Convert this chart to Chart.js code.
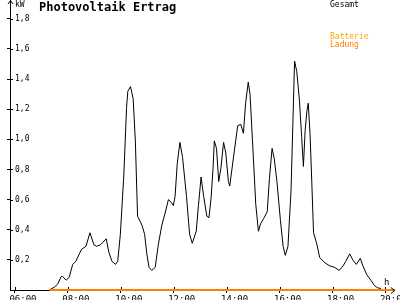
<!DOCTYPE html>
<html>
<head>
<meta charset="utf-8">
<script src="https://cdn.jsdelivr.net/npm/chart.js@4"></script>
<style>
  body { margin: 0; background: #fff; overflow: hidden; }
  #box { width: 400px; height: 300px; }
</style>
</head>
<body>
<div id="box"><canvas id="myChart" width="400" height="300"></canvas></div>
<script>
// Gesamt (kW), Zeitpunkte HH:MM
var gesamtZeiten = ['07:18','07:30','07:37','07:45','07:48','07:56','08:03','08:11','08:18','08:26','08:31','08:41','08:50','08:59','09:05','09:14','09:27','09:33','09:40','09:48','09:53','09:59',
  '10:07','10:13','10:16','10:22','10:28','10:33','10:38','10:48','10:54','10:59','11:04','11:10','11:18','11:25','11:33','11:40','11:48','11:55','11:59',
  '12:03','12:08','12:14','12:20','12:29','12:36','12:42','12:51','12:56','13:02','13:08','13:15','13:20','13:25','13:29','13:32','13:37','13:42','13:47','13:53','13:58',
  '14:04','14:07','14:15','14:25','14:32','14:38','14:43','14:49','14:53','15:00','15:06','15:12','15:17','15:25','15:32','15:37','15:43','15:48','15:54',
  '16:02','16:08','16:13','16:19','16:26','16:30','16:34','16:39','16:45','16:50','16:54','16:58','17:02','17:05','17:09','17:13','17:17','17:24','17:31','17:43','17:54',
  '18:05','18:15','18:24','18:30','18:39','18:46','18:54','19:03','19:09','19:18','19:27','19:35','19:42','19:50'];
var gesamtWerte = [0,0.02,0.04,0.09,0.09,0.065,0.085,0.17,0.19,0.24,0.27,0.29,0.38,0.30,0.29,0.30,0.34,0.25,0.19,0.17,0.19,0.37,
  0.77,1.21,1.32,1.35,1.27,0.99,0.49,0.43,0.37,0.24,0.15,0.13,0.15,0.30,0.43,0.505,0.60,0.58,0.56,
  0.62,0.84,0.98,0.88,0.62,0.37,0.31,0.39,0.56,0.75,0.62,0.49,0.48,0.62,0.80,0.99,0.94,0.72,0.81,0.98,0.91,
  0.72,0.69,0.87,1.09,1.10,1.04,1.24,1.38,1.30,0.91,0.57,0.39,0.44,0.48,0.52,0.74,0.94,0.87,0.72,
  0.46,0.29,0.23,0.29,0.66,1.09,1.52,1.45,1.26,1.02,0.82,1.06,1.19,1.24,1.04,0.72,0.38,0.31,0.215,0.18,0.16,
  0.15,0.13,0.16,0.19,0.24,0.20,0.17,0.21,0.16,0.10,0.065,0.03,0.015,0.01];

// Batterie Ladung
var batterieZeiten = ['07:18', '20:22'];
var batterieWerte = [0, 0];

var xTickLabels = ['06:00','08:00','10:00','12:00','14:00','16:00','18:00','20:00'];
var yTickWerte = [0.2, 0.4, 0.6, 0.8, 1.0, 1.2, 1.4, 1.6, 1.8];

function stunden(s) {
  var p = s.split(':');
  return Number(p[0]) + Number(p[1]) / 60;
}
function punkte(zeiten, werte) {
  return zeiten.map(function (z, i) { return { x: stunden(z), y: werte[i] }; });
}

var mono = 'DejaVu Sans Mono';

// Pfeile, innere Teilstriche, Titel, Einheiten und Legende
var deko = {
  id: 'deko',
  beforeDatasetsDraw: function (chart) {
    var c = chart.ctx, a = chart.chartArea;
    var sx = chart.scales.x, sy = chart.scales.y;
    c.save();
    c.strokeStyle = '#000';
    c.lineWidth = 1;
    c.beginPath();
    yTickWerte.forEach(function (v) {
      var py = Math.round(sy.getPixelForValue(v)) + 0.5;
      c.moveTo(a.left, py); c.lineTo(a.left + 3, py);
    });
    xTickLabels.forEach(function (t) {
      var px = Math.round(sx.getPixelForValue(stunden(t))) + 0.5;
      c.moveTo(px, a.bottom); c.lineTo(px, a.bottom - 3);
    });
    c.stroke();
    c.restore();
  },
  afterDraw: function (chart) {
    var c = chart.ctx, a = chart.chartArea;
    c.save();
    c.strokeStyle = '#000';
    c.lineWidth = 1;
    // y-Pfeil
    c.beginPath();
    c.moveTo(a.left + 0.5, a.top); c.lineTo(a.left + 0.5, 0);
    c.moveTo(a.left - 2, 4); c.lineTo(a.left + 0.5, 0.5); c.lineTo(a.left + 3, 4);
    // x-Pfeil
    c.moveTo(a.right - 4, a.bottom - 2.5); c.lineTo(a.right, a.bottom + 0.5); c.lineTo(a.right - 4, a.bottom + 3.5);
    c.stroke();

    c.fillStyle = '#000';
    c.textBaseline = 'alphabetic';
    c.font = 'bold 12px "' + mono + '"';
    c.fillText('Photovoltaik Ertrag', 39, 11);
    c.font = '8px "' + mono + '"';
    c.fillText('kW', 15, 7);
    c.font = '9px "' + mono + '"';
    c.fillText('h', 384, 285);
    c.font = '8px "' + mono + '"';
    c.fillText('Gesamt', 330, 7);
    c.fillStyle = '#ffa500';
    c.fillText('Batterie', 330, 39);
    c.fillStyle = '#ff8000';
    c.fillText('Ladung', 330, 47);
    c.restore();
  }
};

var ctx = document.getElementById('myChart');
var myChart = new Chart(ctx, {
  type: 'line',
  data: {
    datasets: [{
      label: 'Batterie Ladung',
      data: punkte(batterieZeiten, batterieWerte),
      borderColor: '#ff8000',
      borderWidth: 2,
      pointRadius: 0,
      clip: 3
    }, {
      label: 'Gesamt',
      data: punkte(gesamtZeiten, gesamtWerte),
      borderColor: '#000',
      borderWidth: 1,
      pointRadius: 0,
      tension: 0
    }]
  },
  options: {
    responsive: false,
    animation: false,
    devicePixelRatio: 1,
    layout: { padding: { top: 2, right: 1, left: 0, bottom: 0 } },
    plugins: { legend: { display: false }, tooltip: { enabled: false } },
    scales: {
      x: {
        type: 'linear',
        min: 5.813,
        max: 20.355,
        afterFit: function (s) { s.height = 10; },
        afterBuildTicks: function (s) {
          s.ticks = xTickLabels.map(function (t) { return { value: stunden(t) }; });
        },
        grid: { drawOnChartArea: false, color: '#000', tickLength: 3 },
        border: { color: '#000', width: 1 },
        ticks: {
          autoSkip: false,
          maxRotation: 0,
          padding: 1,
          labelOffset: 8,
          color: '#000',
          font: { family: mono, size: 9 },
          callback: function (v) {
            var i = xTickLabels.findIndex(function (t) { return Math.abs(stunden(t) - v) < 0.01; });
            return i >= 0 ? xTickLabels[i] : '';
          }
        }
      },
      y: {
        min: 0,
        max: 1.86,
        afterFit: function (s) { s.width = 10; },
        afterBuildTicks: function (s) {
          s.ticks = yTickWerte.map(function (v) { return { value: v }; });
        },
        grid: { drawOnChartArea: false, color: '#000', tickLength: 3 },
        border: { color: '#000', width: 1 },
        ticks: {
          mirror: true,
          padding: 5,
          color: '#000',
          font: { family: mono, size: 8 },
          callback: function (v) { return v.toFixed(1).replace('.', ','); }
        }
      }
    }
  },
  plugins: [deko]
});
</script>
</body>
</html>
